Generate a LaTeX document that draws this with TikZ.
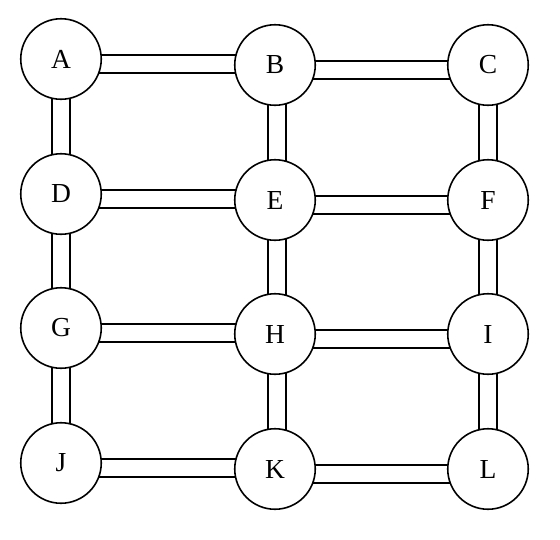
\documentclass[tikz,border=0pt]{standalone}
\usepackage{fontspec}
\setmainfont{Liberation Serif}
\usetikzlibrary{backgrounds}
\tikzset{
  vtx/.style={circle, draw, line width=1.6pt, fill=white, minimum size=80.5pt, inner sep=0pt, font=\fontsize{27.5}{30}\selectfont},
  bar/.style={draw=black, line width=2pt, double=white, double distance=15.5pt}
}
\begin{document}
\begin{tikzpicture}[x=1pt,y=-1pt]
\useasboundingbox (0,0) rectangle (560,539);
\node[vtx] (A) at (61,59) {A};
\node[vtx] (B) at (275,65) {B};
\node[vtx] (C) at (488,65) {C};
\node[vtx] (D) at (61,194) {D};
\node[vtx] (E) at (275,200) {E};
\node[vtx] (F) at (488,200) {F};
\node[vtx] (G) at (61,328) {G};
\node[vtx] (H) at (275,334) {H};
\node[vtx] (I) at (488,334) {I};
\node[vtx] (J) at (61,463) {J};
\node[vtx] (K) at (275,469) {K};
\node[vtx] (L) at (488,469) {L};
\begin{scope}[on background layer]
  % horizontal bars
  \draw[bar] ([yshift=-5pt]A.center) -- ([yshift=-5pt]A.center -| B.center);
  \draw[bar] ([yshift=-5pt]B.center) -- ([yshift=-5pt]B.center -| C.center);
  \draw[bar] ([yshift=-5pt]D.center) -- ([yshift=-5pt]D.center -| E.center);
  \draw[bar] ([yshift=-5pt]E.center) -- ([yshift=-5pt]E.center -| F.center);
  \draw[bar] ([yshift=-5pt]G.center) -- ([yshift=-5pt]G.center -| H.center);
  \draw[bar] ([yshift=-5pt]H.center) -- ([yshift=-5pt]H.center -| I.center);
  \draw[bar] ([yshift=-5pt]J.center) -- ([yshift=-5pt]J.center -| K.center);
  \draw[bar] ([yshift=-5pt]K.center) -- ([yshift=-5pt]K.center -| L.center);
  % vertical bars
  \draw[bar] (A.center) -- (D.center);
  \draw[bar] (D.center) -- (G.center);
  \draw[bar] (G.center) -- (J.center);
  \draw[bar] ([xshift=2pt]B.center) -- ([xshift=2pt]E.center);
  \draw[bar] ([xshift=2pt]E.center) -- ([xshift=2pt]H.center);
  \draw[bar] ([xshift=2pt]H.center) -- ([xshift=2pt]K.center);
  \draw[bar] (C.center) -- (F.center);
  \draw[bar] (F.center) -- (I.center);
  \draw[bar] (I.center) -- (L.center);
\end{scope}
\end{tikzpicture}
\end{document}
